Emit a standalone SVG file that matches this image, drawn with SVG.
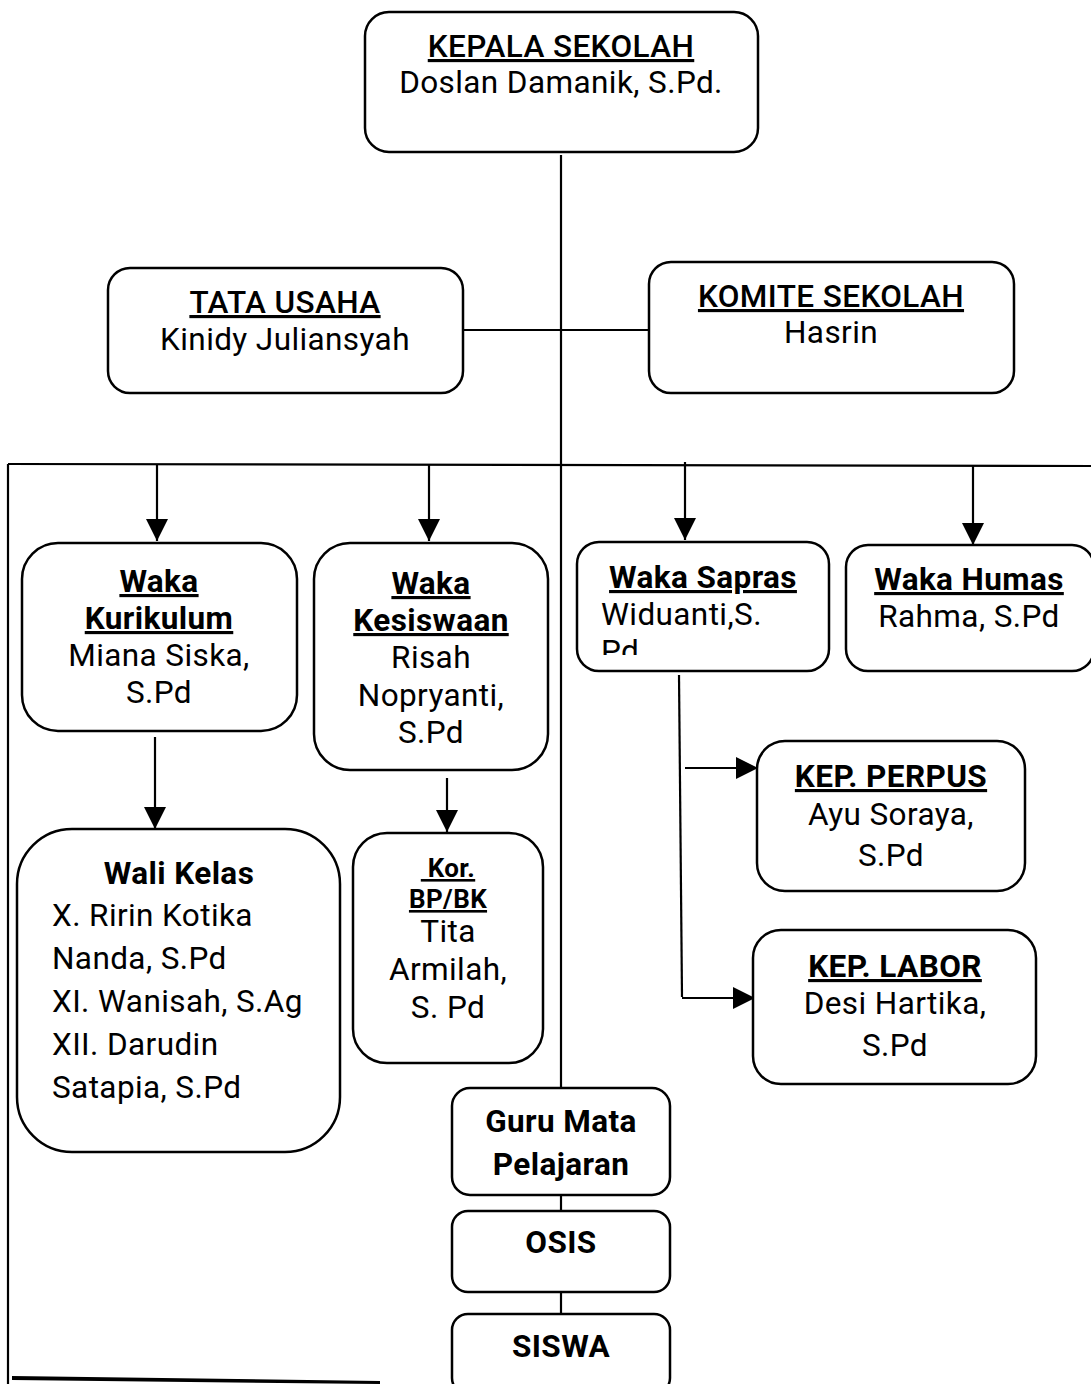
<svg xmlns="http://www.w3.org/2000/svg" width="1091" height="1384" viewBox="0 0 1091 1384">
<defs>
<marker id="ah" markerUnits="userSpaceOnUse" markerWidth="24" markerHeight="22" refX="22" refY="11" orient="auto">
<path d="M0,0 L22,11 L0,22 Z" fill="#000"/>
</marker>
<clipPath id="clipSapras"><rect x="579" y="544" width="248" height="111"/></clipPath>
</defs>
<style>
.box{fill:#fff;stroke:#000;stroke-width:2.5}
.ln{fill:none;stroke:#000;stroke-width:2.2}
text{font-family:Roboto,"Liberation Sans",sans-serif;font-size:31.5px;letter-spacing:0.4px;fill:#000;text-anchor:middle}
.b{font-weight:bold}
.m{font-weight:500}
.u{text-decoration:underline}
.l{text-anchor:start}
.s{font-size:26px}
</style>
<rect width="1091" height="1384" fill="#fff"/>
<g id="connectors">
<line class="ln" x1="561" y1="155" x2="561" y2="1088"/>
<line class="ln" x1="463" y1="330" x2="650" y2="330"/>
<line class="ln" x1="8" y1="464" x2="1091" y2="466"/>
<line class="ln" x1="8" y1="464" x2="8" y2="1384"/>
<path d="M12,1376 L380,1381 L380,1384 L12,1380 Z" fill="#000"/>
<line class="ln" x1="157" y1="465" x2="157" y2="541" marker-end="url(#ah)"/>
<line class="ln" x1="429" y1="465" x2="429" y2="541" marker-end="url(#ah)"/>
<line class="ln" x1="685" y1="462" x2="685" y2="540" marker-end="url(#ah)"/>
<line class="ln" x1="973" y1="466" x2="973" y2="545" marker-end="url(#ah)"/>
<line class="ln" x1="155" y1="737" x2="155" y2="829" marker-end="url(#ah)"/>
<line class="ln" x1="447" y1="778" x2="447" y2="832" marker-end="url(#ah)"/>
<line class="ln" x1="679" y1="675" x2="682" y2="997"/>
<line class="ln" x1="685" y1="768" x2="758" y2="768" marker-end="url(#ah)"/>
<line class="ln" x1="682" y1="998" x2="755" y2="998" marker-end="url(#ah)"/>
<line class="ln" x1="561" y1="1195" x2="561" y2="1211"/>
<line class="ln" x1="561" y1="1292" x2="561" y2="1314"/>
</g>
<g id="kepala">
<rect class="box" x="365" y="12" width="393" height="140" rx="24"/>
<text x="561" y="57" class="m u">KEPALA SEKOLAH</text>
<text x="561" y="93">Doslan Damanik, S.Pd.</text>
</g>
<g id="tatausaha">
<rect class="box" x="108" y="268" width="355" height="125" rx="22"/>
<text x="285" y="313" class="m u">TATA USAHA</text>
<text x="285" y="350">Kinidy Juliansyah</text>
</g>
<g id="komite">
<rect class="box" x="649" y="262" width="365" height="131" rx="22"/>
<text x="831" y="307" class="m u">KOMITE SEKOLAH</text>
<text x="831" y="343">Hasrin</text>
</g>
<g id="kurikulum">
<rect class="box" x="22" y="543" width="275" height="188" rx="36"/>
<text x="159" y="592" class="b u">Waka</text>
<text x="159" y="629" class="b u">Kurikulum</text>
<text x="159" y="666">Miana Siska,</text>
<text x="159" y="703">S.Pd</text>
</g>
<g id="kesiswaan">
<rect class="box" x="314" y="543" width="234" height="227" rx="36"/>
<text x="431" y="594" class="b u">Waka</text>
<text x="431" y="631" class="b u">Kesiswaan</text>
<text x="431" y="668">Risah</text>
<text x="431" y="706">Nopryanti,</text>
<text x="431" y="743">S.Pd</text>
</g>
<g id="sapras">
<rect class="box" x="577" y="542" width="252" height="129" rx="22"/>
<text x="703" y="588" class="b u">Waka Sapras</text>
<g clip-path="url(#clipSapras)">
<text x="601" y="625" class="l">Widuanti,S.</text>
<text x="601" y="662" class="l">Pd</text>
</g>
</g>
<g id="humas">
<rect class="box" x="846" y="545" width="248" height="126" rx="22"/>
<text x="969" y="590" class="b u">Waka Humas</text>
<text x="969" y="627">Rahma, S.Pd</text>
</g>
<g id="walikelas">
<rect class="box" x="17" y="829" width="323" height="323" rx="55"/>
<text x="179" y="884" class="b">Wali Kelas</text>
<text x="52" y="926" class="l">X. Ririn Kotika</text>
<text x="52" y="969" class="l">Nanda, S.Pd</text>
<text x="52" y="1012" class="l">XI. Wanisah, S.Ag</text>
<text x="52" y="1055" class="l">XII. Darudin</text>
<text x="52" y="1098" class="l">Satapia, S.Pd</text>
</g>
<g id="bpbk">
<rect class="box" x="353" y="833" width="190" height="230" rx="34"/>
<text x="448" y="877" class="b u s" style="white-space:pre"> Kor.</text>
<text x="448" y="908" class="b u s">BP/BK</text>
<text x="448" y="942">Tita</text>
<text x="448" y="980">Armilah,</text>
<text x="448" y="1018">S. Pd</text>
</g>
<g id="perpus">
<rect class="box" x="757" y="741" width="268" height="150" rx="28"/>
<text x="891" y="787" class="b u">KEP. PERPUS</text>
<text x="891" y="825">Ayu Soraya,</text>
<text x="891" y="866">S.Pd</text>
</g>
<g id="labor">
<rect class="box" x="753" y="930" width="283" height="154" rx="28"/>
<text x="895" y="977" class="b u">KEP. LABOR</text>
<text x="895" y="1014">Desi Hartika,</text>
<text x="895" y="1056">S.Pd</text>
</g>
<g id="guru">
<rect class="box" x="452" y="1088" width="218" height="107" rx="18"/>
<text x="561" y="1132" class="b">Guru Mata</text>
<text x="561" y="1175" class="b">Pelajaran</text>
</g>
<g id="osis">
<rect class="box" x="452" y="1211" width="218" height="81" rx="16"/>
<text x="561" y="1253" class="b">OSIS</text>
</g>
<g id="siswa">
<rect class="box" x="452" y="1314" width="218" height="80" rx="16"/>
<text x="561" y="1357" class="b">SISWA</text>
</g>
</svg>
